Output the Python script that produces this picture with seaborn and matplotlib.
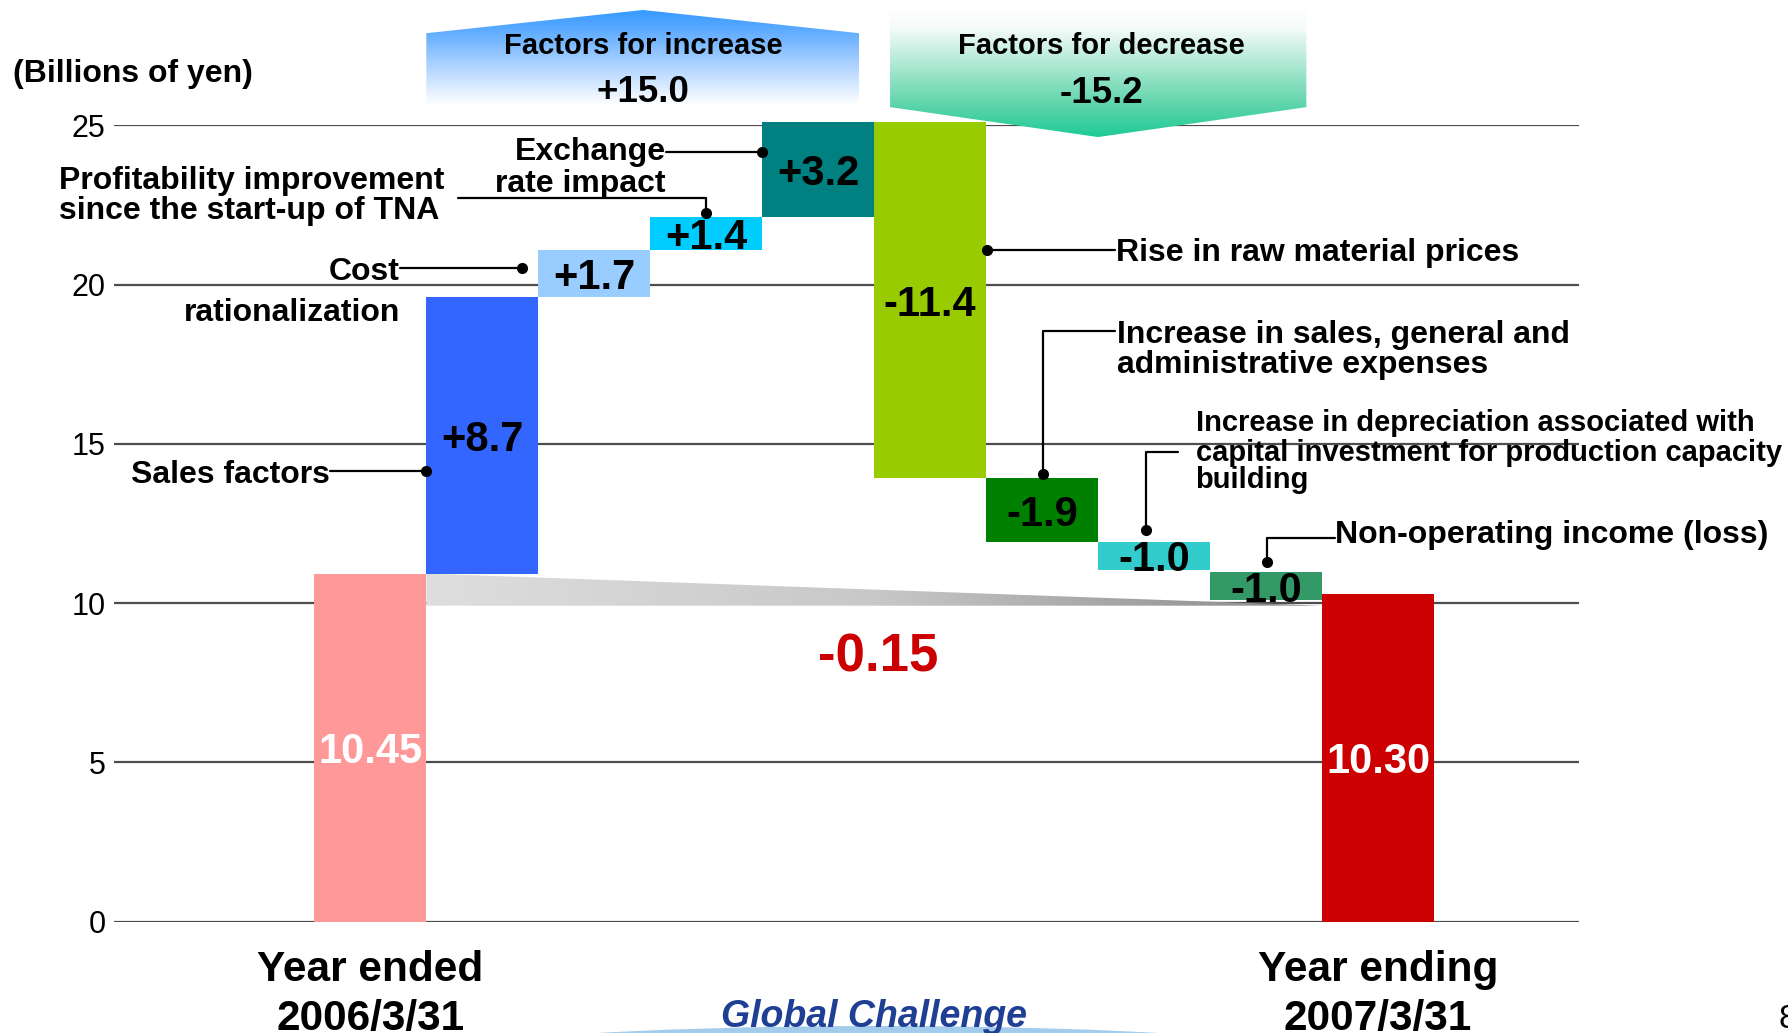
import numpy as np
import pandas as pd
import matplotlib
matplotlib.use("Agg")
import matplotlib.pyplot as plt
import seaborn as sns
from matplotlib.patches import Polygon, Ellipse
from matplotlib.colors import LinearSegmentedColormap

# ---------------- data ----------------
categories = [
    "Year ended 2006/3/31",
    "Sales factors",
    "Cost rationalization",
    "Profitability improvement since the start-up of TNA",
    "Exchange rate impact",
    "Rise in raw material prices",
    "Increase in sales, general and administrative expenses",
    "Increase in depreciation associated with capital investment for production capacity building",
    "Non-operating income (loss)",
    "Year ending 2007/3/31",
]
bar_low = [0.0, 10.93, 19.61, 21.08, 22.12, 13.92, 11.92, 11.04, 10.10, 0.0]
bar_high = [10.93, 19.61, 21.08, 22.12, 25.10, 25.10, 13.92, 11.92, 10.97, 10.28]
bar_labels = ["10.45", "+8.7", "+1.7", "+1.4", "+3.2", "-11.4", "-1.9", "-1.0", "-1.0", "10.30"]
bar_colors = ["#FF9999", "#3366FF", "#99CCFF", "#00CCFF", "#008080",
              "#99CC00", "#008000", "#33CCCC", "#339966", "#CC0000"]
label_colors = ["white", "black", "black", "black", "black",
                "black", "black", "black", "black", "white"]
y_ticks = [0, 5, 10, 15, 20, 25]
increase_title, increase_total = "Factors for increase", "+15.0"
decrease_title, decrease_total = "Factors for decrease", "-15.2"
net_change = "-0.15"
unit_label = "(Billions of yen)"
year_lines = [["Year ended", "2006/3/31"], ["Year ending", "2007/3/31"]]

# ---------------- style ----------------
sns.set_theme(style="white")
plt.rcParams["font.family"] = ["Liberation Sans", "DejaVu Sans"]
plt.rcParams["text.color"] = "black"

fig = plt.figure(figsize=(17.88, 10.33), dpi=100)
ax = fig.add_axes([0.06376, 0.10775, 0.81935, 0.77096])

df = pd.DataFrame({
    "item": categories,
    "height": [h - l for h, l in zip(bar_high, bar_low)],
})
sns.barplot(data=df, x="item", y="height", order=categories, ax=ax,
            color="#808080", bottom=bar_low, facecolor=bar_colors, width=1.0,
            linewidth=0, saturation=1, errorbar=None, zorder=2)
for p in ax.patches:
    p.set_clip_on(False)

ax.set_xlim(-2.289, 10.795)
ax.set_ylim(0, 25)
ax.set_yticks(y_ticks)
ax.set_xticks([])
ax.set_xlabel("")
ax.set_ylabel("")
for s in ax.spines.values():
    s.set_visible(False)
ax.yaxis.grid(True, color="#4D4D4D", linewidth=1.6)
ax.set_axisbelow(True)
ax.tick_params(axis="y", length=0, pad=6, labelsize=22, labelcolor="black")


def gradient_poly(verts, stops, direction, z):
    poly = Polygon(verts, closed=True, facecolor="none", edgecolor="none",
                   transform=ax.transData, clip_on=False)
    ax.add_patch(poly)
    xs = [v[0] for v in verts]
    ys = [v[1] for v in verts]
    g = np.linspace(0, 1, 256)
    grad = g.reshape(-1, 1) if direction == "v" else g.reshape(1, -1)
    cmap = LinearSegmentedColormap.from_list("g", stops)
    im = ax.imshow(grad, extent=[min(xs), max(xs), min(ys), max(ys)],
                   origin="lower", aspect="auto", cmap=cmap, zorder=z,
                   interpolation="bilinear")
    im.set_clip_path(poly)
    im.set_clip_box(fig.bbox)
    return im


# gray wedge showing net change
gradient_poly([(0.5, 10.93), (8.5, 9.92), (0.5, 9.92)],
              ["#DEDEDE", "#C8C8C8", "#888888"], "h", 1.5)

# header shapes
gradient_poly([(0.5, 25.57), (0.5, 27.89), (2.436, 28.62), (4.366, 27.89), (4.366, 25.57)],
              [(0, "#FFFFFF"), (0.06, "#F8FBFF"), (0.45, "#A8D0FF"),
               (0.8, "#5AA9FF"), (1, "#3399FF")], "v", 3)
gradient_poly([(4.642, 28.62), (4.642, 25.57), (6.5, 24.63), (8.36, 25.57), (8.36, 28.62)],
              [(0, "#1ECB96"), (0.25, "#5ED4AA"), (0.85, "#F4FBF8"), (1, "#FFFFFF")], "v", 3)

ax.text(2.436, 27.48, increase_title, ha="center", va="center", fontsize=21,
        fontweight="bold", zorder=5)
ax.text(2.436, 26.02, increase_total, ha="center", va="center", fontsize=26.5,
        fontweight="bold", zorder=5)
ax.text(6.53, 27.48, decrease_title, ha="center", va="center", fontsize=21,
        fontweight="bold", zorder=5)
ax.text(6.53, 26.0, decrease_total, ha="center", va="center", fontsize=26.5,
        fontweight="bold", zorder=5)

# bar value labels
for i, (lo, hi) in enumerate(zip(bar_low, bar_high)):
    ax.text(i, (lo + hi) / 2, bar_labels[i], ha="center", va="center_baseline",
            fontsize=30, fontweight="bold", color=label_colors[i], zorder=6)

# net change label
ax.text(4.537, 8.47, net_change, ha="center", va="center_baseline", fontsize=38,
        fontweight="bold", color="#CC0000", zorder=6)

# ---------------- annotations with leaders ----------------
lk = dict(color="black", lw=1.6, clip_on=False, zorder=7)
dk = dict(color="black", marker="o", ms=7, ls="none", clip_on=False, zorder=8)
tk = dict(fontsize=23, fontweight="bold", va="center_baseline", zorder=8, color="black")

# Sales factors
ax.plot([-0.36, 0.498], [14.16, 14.16], **lk)
ax.plot([0.498], [14.16], **dk)
ax.text(-0.36, 14.14, categories[1], ha="right", **tk)

# Cost rationalization
ax.plot([0.266, 1.355], [20.52, 20.52], **lk)
ax.plot([1.355], [20.52], **dk)
ax.text(0.266, 20.52, "Cost", ha="right", **tk)
ax.text(0.266, 19.23, "rationalization", ha="right", **tk)

# Profitability improvement
ax.plot([0.78, 3.0, 3.0], [22.71, 22.71, 22.24], **lk)
ax.plot([3.0], [22.24], **dk)
ax.text(-2.78, 23.36, "Profitability improvement", ha="left", **tk)
ax.text(-2.78, 22.42, "since the start-up of TNA", ha="left", **tk)

# Exchange rate impact
ax.plot([2.64, 3.5], [24.16, 24.16], **lk)
ax.plot([3.5], [24.16], **dk)
ax.text(2.64, 24.28, "Exchange", ha="right", **tk)
ax.text(2.64, 23.28, "rate impact", ha="right", **tk)

# Rise in raw material prices
ax.plot([5.508, 6.65], [21.10, 21.10], **lk)
ax.plot([5.508], [21.10], **dk)
ax.text(6.66, 21.10, categories[5], ha="left", **tk)

# SG&A
ax.plot([6.005, 6.005, 6.65], [14.06, 18.55, 18.55], **lk)
ax.plot([6.005], [14.06], **dk)
ax.text(6.67, 18.52, "Increase in sales, general and", ha="left", **tk)
ax.text(6.67, 17.58, "administrative expenses", ha="left", **tk)

# Depreciation
ax.plot([6.928, 6.928, 7.21], [12.29, 14.75, 14.75], **lk)
ax.plot([6.928], [12.29], **dk)
tk2 = dict(tk, fontsize=21)
ax.text(7.37, 15.75, "Increase in depreciation associated with", ha="left", **tk2)
ax.text(7.37, 14.82, "capital investment for production capacity", ha="left", **tk2)
ax.text(7.37, 13.95, "building", ha="left", **tk2)

# Non-operating income (loss)
ax.plot([8.005, 8.005, 8.62], [11.30, 12.05, 12.05], **lk)
ax.plot([8.005], [11.30], **dk)
ax.text(8.62, 12.24, categories[8], ha="left", **tk)

# year labels under the end bars
for xi, lines in zip([0, 9], year_lines):
    ax.text(xi, -1.36, lines[0], ha="center", va="center_baseline", fontsize=30.5,
            fontweight="bold", clip_on=False, color="black")
    ax.text(xi, -2.90, lines[1], ha="center", va="center_baseline", fontsize=30.5,
            fontweight="bold", clip_on=False, color="black")

# unit label
fig.text(12.6 / 1788, 1 - 74 / 1033, unit_label, ha="left", va="center",
         fontsize=23, fontweight="bold", color="black")

# logo and page number
fig.add_artist(Ellipse((878 / 1788, 1 - 1058 / 1033), width=900 / 1788, height=64 / 1033,
                       transform=fig.transFigure, facecolor="#A3CBEB", edgecolor="none"))
fig.text(874 / 1788, 1 - 1017 / 1033, "Global Challenge", ha="center", va="center",
         fontsize=27, fontweight="bold", style="italic", color="#1F3F94")
fig.text(1779 / 1788, 1 - 1020 / 1033, "8", ha="left", va="center", fontsize=24,
         color="black")

fig.savefig("out.png", dpi=100)
